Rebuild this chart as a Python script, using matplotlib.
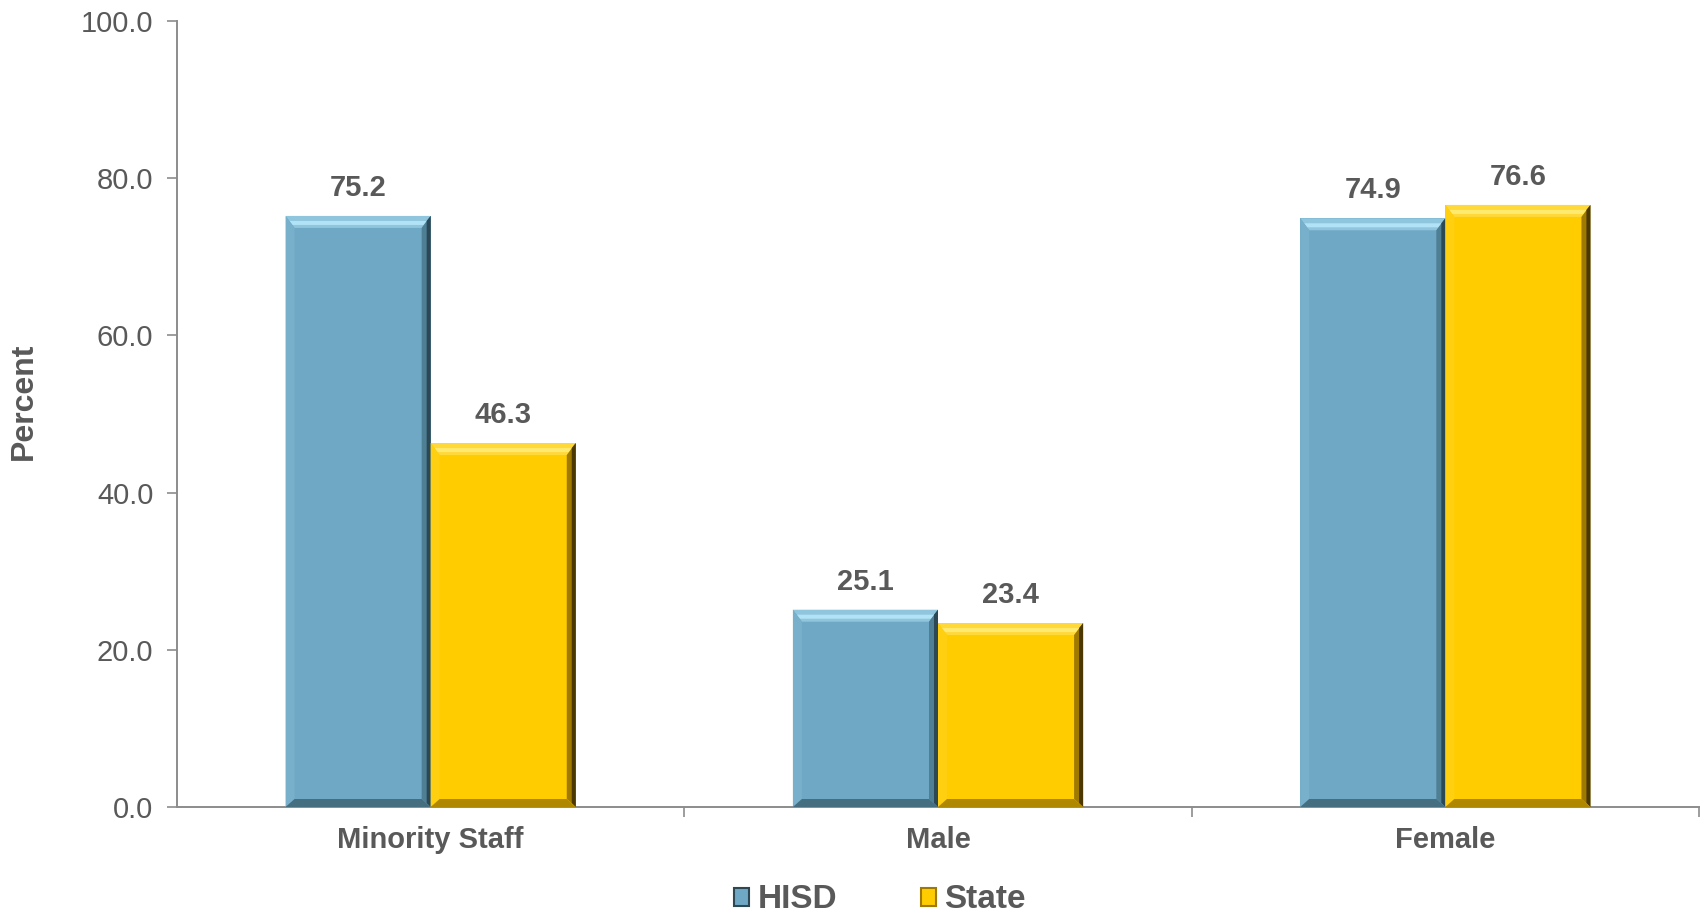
import matplotlib
matplotlib.use("Agg")
import matplotlib.pyplot as plt
import numpy as np
from matplotlib.patches import Polygon, Patch

categories = ["Minority Staff", "Male", "Female"]
hisd = [75.2, 25.1, 74.9]
state = [46.3, 23.4, 76.6]
series_names = ["HISD", "State"]

# main, top light, top strip, left light, right dark, right inner, bottom dark
hisd_cols = ["#6FA8C4", "#8FC6DE", "#B2E2F5", "#78B0CB", "#2C4855", "#4E7F94", "#456E80"]
state_cols = ["#FFCC00", "#FFD83A", "#FFEA70", "#FFCF10", "#4A3800", "#A07A00", "#B08800"]

plt.rcParams['font.family'] = ['Liberation Sans', 'DejaVu Sans']
txt = "#595959"
axc = "#8C8C8C"

fig = plt.figure(figsize=(17.04, 9.16), dpi=100)
ax = fig.add_axes([177/1704, 109/916, (1699-177)/1704, (807-21)/916])

x = np.arange(len(categories))
w = 0.286
b1 = ax.bar(x - w/2, hisd, w, color=hisd_cols[0], linewidth=0, zorder=2)
b2 = ax.bar(x + w/2, state, w, color=state_cols[0], linewidth=0, zorder=2)

ax.set_xlim(-0.5, 2.5)
ax.set_ylim(0, 100)
ax.set_yticks(np.arange(0, 101, 20))
ax.set_yticklabels([f"{v:.1f}" for v in np.arange(0, 101, 20)])
ax.set_xticks(x)
ax.set_xticklabels(categories, fontweight='bold')
ax.set_xticks([0.5, 1.5, 2.5], minor=True)
ax.tick_params(axis='x', which='major', length=0, pad=14, labelsize=21, labelcolor=txt)
ax.tick_params(axis='x', which='minor', length=7, color=axc, width=1.2, direction='out')
ax.tick_params(axis='y', length=7, color=axc, width=1.2, labelsize=21, labelcolor=txt, pad=10)
for s in ['top', 'right']:
    ax.spines[s].set_visible(False)
for s in ['left', 'bottom']:
    ax.spines[s].set_color(axc)
    ax.spines[s].set_linewidth(1.4)
ax.set_ylabel("Percent", fontsize=23, fontweight='bold', color=txt, va='center')
ax.yaxis.set_label_coords(-(177 - 24) / 1522, 0.516)

# bevel edges drawn in pixel space
fig.canvas.draw()
inv = ax.transData.inverted()
bt, bs, bv = 12, 9, 8
for bars, cols in ((b1, hisd_cols), (b2, state_cols)):
    for p in bars:
        (x0, y0), (x1, y1) = ax.transData.transform([(p.get_x(), 0), (p.get_x() + p.get_width(), p.get_height())])
        quads = [
            ([(x0, y1), (x1, y1), (x1 - bs, y1 - bt), (x0 + bs, y1 - bt)], cols[1]),
            ([(x0 + 4, y1 - 5), (x1 - 4, y1 - 5), (x1 - 7, y1 - 9), (x0 + 7, y1 - 9)], cols[2]),
            ([(x0, y0), (x0, y1), (x0 + bs, y1 - bt), (x0 + bs, y0 + bv)], cols[3]),
            ([(x1, y0), (x1, y1), (x1 - bs, y1 - bt), (x1 - bs, y0 + bv)], cols[5]),
            ([(x1, y0), (x1, y1), (x1 - 4, y1 - 5), (x1 - 4, y0 + 4)], cols[4]),
            ([(x0, y0), (x1, y0), (x1 - bs, y0 + bv), (x0 + bs, y0 + bv)], cols[6]),
        ]
        for pts, c in quads:
            ax.add_patch(Polygon(inv.transform(pts), closed=True, facecolor=c, edgecolor='none', zorder=3))
        ax.text(p.get_x() + p.get_width()/2, p.get_height() + 1.8, f"{p.get_height():.1f}",
                ha='center', va='bottom', fontsize=21, fontweight='bold', color=txt)

handles = [Patch(facecolor=hisd_cols[0], edgecolor=hisd_cols[4], linewidth=1.5),
           Patch(facecolor=state_cols[0], edgecolor=state_cols[5], linewidth=1.5)]
leg = fig.legend(handles, series_names, loc='center', bbox_to_anchor=(880/1704, 1 - 900/916),
                 ncol=2, frameon=False, handlelength=0.45, handleheight=0.45, handletextpad=0.25,
                 columnspacing=2.5, prop={'size': 24, 'weight': 'bold'})
for t in leg.get_texts():
    t.set_color(txt)

fig.savefig("out.png", dpi=100)
